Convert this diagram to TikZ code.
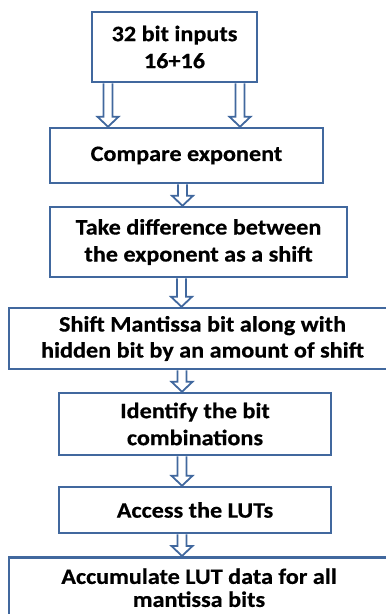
\documentclass[tikz,border=0pt]{standalone}
\usepackage{fontspec}
\setmainfont{Carlito}[FakeStretch=1.1, BoldFeatures={FakeBold=0.5}]
\usetikzlibrary{calc}
\definecolor{boxblue}{RGB}{65,104,158}
\tikzset{
  box/.style={draw=boxblue, line width=2.5pt, fill=white, inner sep=0pt, align=center,
    font=\fontsize{22}{27}\selectfont\bfseries},
  barr/.style={draw=boxblue, line width=1.8pt, fill=white, line join=miter}
}
\newcommand\barrow[3]{%
  \coordinate (ax) at (#3,0);
  \coordinate (s) at (#1.south -| ax);
  \coordinate (e) at (#2.north -| ax);
  \draw[barr] ($(s)+(-4.5,0)$) -- ($(e)+(-4.5,-10)$) -- ($(e)+(-10.5,-10)$) -- (e)
     -- ($(e)+(10.5,-10)$) -- ($(e)+(4.5,-10)$) -- ($(s)+(4.5,0)$);
}
\begin{document}
\begin{tikzpicture}[x=1pt,y=-1pt]
\useasboundingbox (0,0) rectangle (386,614);
\node[box, minimum width=165pt, minimum height=70pt] (b1) at (174.5,47) {32 bit inputs\\16+16};
\node[box, minimum width=273pt, minimum height=55pt] (b2) at (186.5,155.5) {Compare exponent};
\node[box, minimum width=297pt, minimum height=70pt] (b3) at (198.5,242) {Take difference between\\the exponent as a shift};
\node[box, minimum width=387pt, minimum height=61pt, font=\fontsize{22}{26}\selectfont\bfseries] (b4) at (202.5,338.5) {Shift Mantissa bit along with\\hidden bit by an amount of shift};
\node[box, minimum width=272pt, minimum height=62pt] (b5) at (195,424) {Identify the bit\\combinations};
\node[box, minimum width=272pt, minimum height=46pt] (b6) at (195,510) {Access the LUTs};
\node[box, minimum width=380pt, minimum height=61pt, anchor=north, font=\fontsize{22}{23}\selectfont\bfseries] (b7) at (199,556) {Accumulate LUT data for all\\mantissa bits};
\barrow{b1}{b2}{108}
\barrow{b1}{b2}{240}
\barrow{b2}{b3}{182.5}
\barrow{b3}{b4}{181.5}
\barrow{b4}{b5}{182}
\barrow{b5}{b6}{182}
\barrow{b6}{b7}{182}
\end{tikzpicture}
\end{document}
